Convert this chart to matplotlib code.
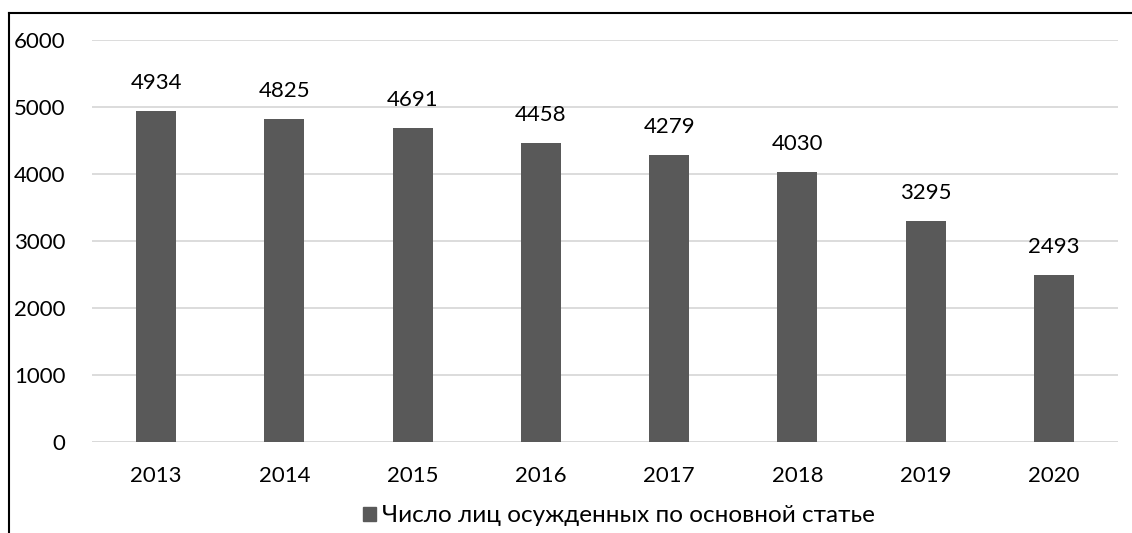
import matplotlib
matplotlib.use("Agg")
import matplotlib.pyplot as plt
from matplotlib.lines import Line2D
from matplotlib.patches import Patch

years = ["2013", "2014", "2015", "2016", "2017", "2018", "2019", "2020"]
values = [4934, 4825, 4691, 4458, 4279, 4030, 3295, 2493]
series_name = "Число лиц осужденных по основной статье"
yticks = [0, 1000, 2000, 3000, 4000, 5000, 6000]

W, H = 1132, 533
fig = plt.figure(figsize=(W / 100, H / 100), dpi=100)
plt.rcParams['font.family'] = ['Lato', 'DejaVu Sans']
FS = 16

left, right = 92 / W, 1118 / W
top, bottom = 1 - 40 / H, 1 - 442 / H
ax = fig.add_axes([left, bottom, right - left, top - bottom])

x = list(range(len(years)))
bars = ax.bar(x, values, width=0.31, color="#595959", zorder=3)
for xi, v in zip(x, values):
    ax.annotate(str(v), (xi, v), xytext=(0, 13), textcoords="offset points",
                ha="center", va="bottom", fontsize=FS, color="black")

ax.set_xlim(-0.5, len(years) - 0.5)
ax.set_ylim(0, 6000)
ax.set_yticks(yticks)
ax.set_yticklabels([str(t) for t in yticks], fontsize=FS)
ax.set_xticks(x)
ax.set_xticklabels(years, fontsize=FS)
ax.yaxis.grid(True, color="#d9d9d9", linewidth=1.3, zorder=0)
for s in ax.spines.values():
    s.set_visible(False)
ax.tick_params(axis="both", length=0)
ax.tick_params(axis="y", pad=19)
ax.tick_params(axis="x", pad=17)
ax.axhline(0, color="#d9d9d9", linewidth=1.3, zorder=2)

ax.legend(handles=[Patch(color="#595959", label=series_name)], loc="center",
          bbox_to_anchor=(619 / W, 1 - 516 / H), bbox_transform=fig.transFigure,
          frameon=False, fontsize=17.5, handlelength=0.55, handleheight=0.55,
          handletextpad=0.25, borderpad=0, borderaxespad=0)

# outer border lines (left and top)
fig.add_artist(Line2D([8.5 / W, 8.5 / W], [0, 1 - 12.5 / H], color="black", linewidth=1.5, transform=fig.transFigure))
fig.add_artist(Line2D([8.5 / W, 1], [1 - 12.5 / H, 1 - 12.5 / H], color="black", linewidth=1.5, transform=fig.transFigure))

fig.savefig("out.png", dpi=100)
